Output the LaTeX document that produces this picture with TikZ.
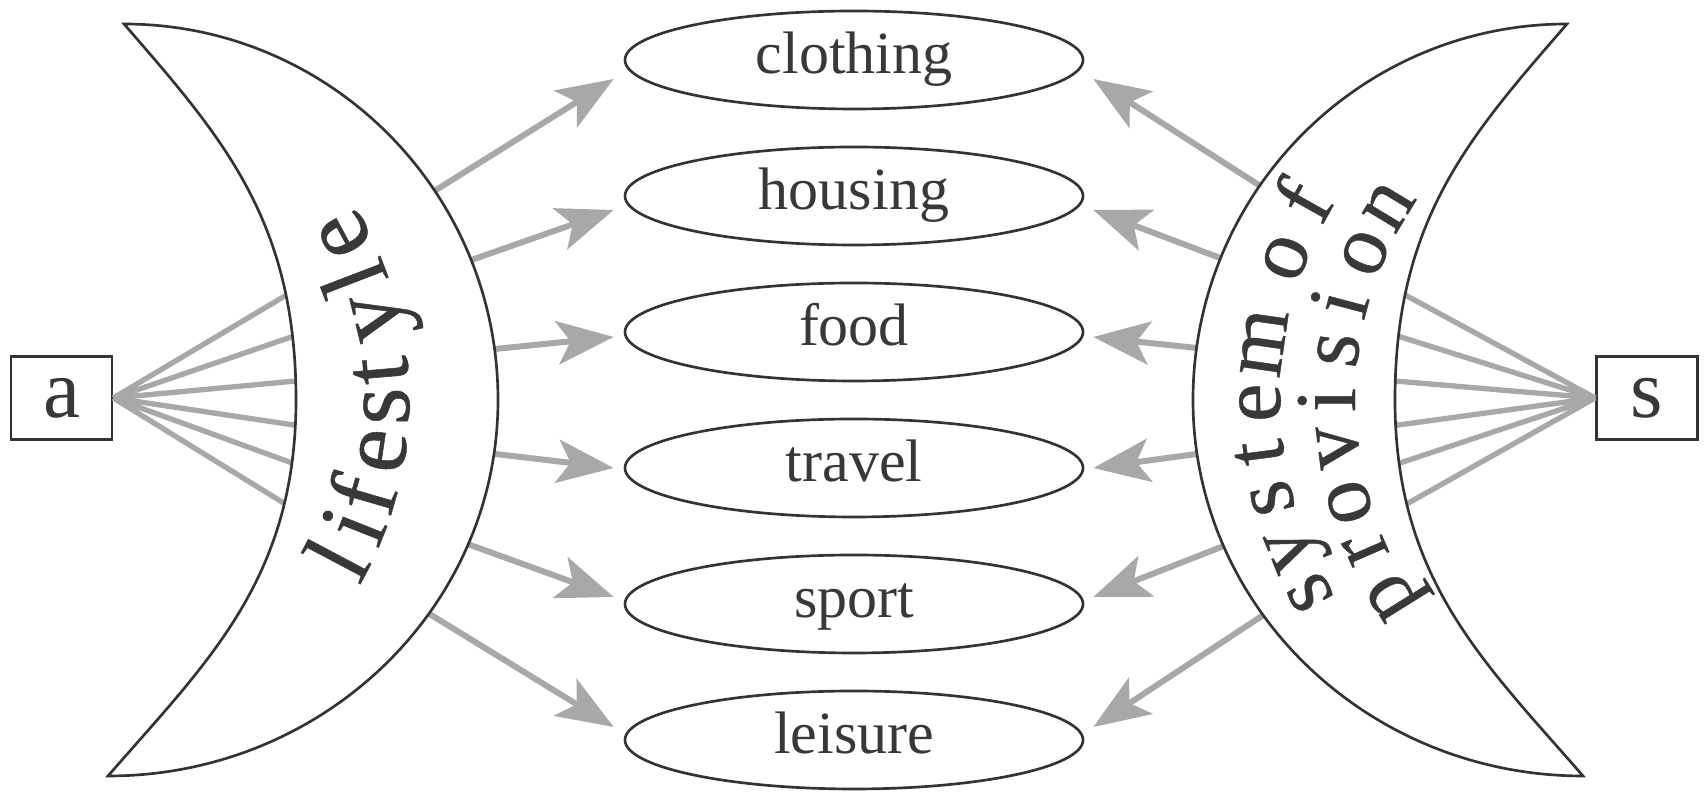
\documentclass[tikz,border=0pt]{standalone}
\usepackage{fontspec}
\setmainfont{Liberation Serif}
\newfontfamily\moonfont{Liberation Serif}[FakeBold=0.5]
\usetikzlibrary{arrows.meta,shapes.geometric}
\definecolor{ink}{HTML}{333333}
\definecolor{txt}{HTML}{383838}
\definecolor{raygray}{HTML}{A8A8A8}
\begin{document}
\begin{tikzpicture}[x=0.3pt,y=-0.3pt,
  topic/.style={ellipse, draw=ink, line width=0.8pt, fill=white,
    minimum width=137.4pt, minimum height=29.4pt, inner sep=0pt, text=txt,
    font=\fontsize{18}{20}\selectfont, text height=12.6pt, text depth=4.5pt},
  tag/.style={draw=ink, line width=0.8pt, fill=white, minimum width=30.3pt,
    minimum height=24.9pt, inner sep=0pt, text=txt, font=\fontsize{25}{26}\selectfont},
  moon/.style={draw=ink, line width=0.8pt, fill=white, line join=miter},
  ray/.style={draw=raygray, line width=1.6pt},
  feed/.style={draw=raygray, line width=1.8pt,
    -{Stealth[length=17pt,width=13pt,inset=4pt]}},
  glyphL/.style={anchor=base, inner sep=0pt, text=txt, font=\moonfont\fontsize{29}{29}\selectfont},
  glyphR/.style={anchor=base, inner sep=0pt, text=txt, font=\moonfont\fontsize{26}{26}\selectfont}
]
\useasboundingbox (0,0) rectangle (1704,792);

% consumption domains
\node[topic] (clothing) at (854,60)  {clothing};
\node[topic] (housing)  at (854,196) {housing};
\node[topic] (food)     at (854,332) {food};
\node[topic] (travel)   at (854,468) {travel};
\node[topic] (sport)    at (854,604) {sport};
\node[topic] (leisure)  at (854,740) {leisure};

% actor boxes
\node[tag] (a) at (61.5,398) {a};
\node[tag] (s) at (1647,398) {s};

% fan of rays into the inner edge of each crescent
\foreach \i/\x/\y in {1/295/290, 2/303/333, 3/307/380, 4/307/427, 5/303/467, 6/295/510}
  \coordinate (ain\i) at (\x,\y);
\foreach \i/\x/\y in {1/1396/290, 2/1388/333, 3/1383/380, 4/1384/427, 5/1388/467, 6/1396/510}
  \coordinate (sin\i) at (\x,\y);
\foreach \i in {1,...,6} {
  \draw[ray] (a.east) -- (ain\i);
  \draw[ray] (s.west) -- (sin\i);
}

% arrows from the outer edge of each crescent to the domains
\foreach \i/\x/\y in {1/428/195, 2/463/263, 3/485/350, 4/487/453, 5/462/542, 6/423/610}
  \coordinate (aout\i) at (\x,\y);
\foreach \i/\x/\y in {1/1265/189, 2/1228/261, 3/1206/349, 4/1204/453, 5/1229/544, 6/1268/612}
  \coordinate (sout\i) at (\x,\y);
\foreach \i/\n/\d in {1/clothing/19, 2/housing/14, 3/food/5, 4/travel/0, 5/sport/-7, 6/leisure/-13} {
  \draw[feed] (aout\i) -- ([shift={(-10,\d)}]\n.west);
  \draw[feed] (sout\i) -- ([shift={(9,\d)}]\n.east);
}

% crescents
\draw[moon] (124,24) .. controls (330,24) and (498,192) .. (498,400)
  .. controls (498,608) and (323,776) .. (108,776)
  .. controls (206,663) and (296,580) .. (296,400)
  .. controls (296,220) and (222,137) .. (124,24) -- cycle;
\draw[moon] (1567,24) .. controls (1361,24) and (1193,192) .. (1193,400)
  .. controls (1193,608) and (1368,776) .. (1583,776)
  .. controls (1485,663) and (1395,580) .. (1395,400)
  .. controls (1395,220) and (1469,137) .. (1567,24) -- cycle;

% curved lettering
\foreach \ch/\ang in {l/-27.9, i/-21.6, f/-16.2, e/-8.4, s/-1.0, t/4.9, y/13.8, l/21.0, e/28.3}
  \node[glyphL, rotate=\ang+90] at ({37+372*cos(\ang)}, {400-372*sin(\ang)}) {\ch};
\foreach \ch/\ang in {s/28.8, y/22.0, s/14.2, t/7.5, e/0.4, m/-8.2, o/-20.8, f/-29.2}
  \node[glyphR, rotate=\ang+90] at ({1660-380*cos(\ang)}, {400+380*sin(\ang)}) {\ch};
\foreach \ch/\ang in {p/31.9, r/23.4, o/15.9, v/7.2, i/0, s/-7.7, i/-14.8, o/-23.2, n/-31.2}
  \node[glyphR, rotate=\ang+90] at ({1708-353*cos(\ang)}, {400+353*sin(\ang)}) {\ch};
\end{tikzpicture}
\end{document}
